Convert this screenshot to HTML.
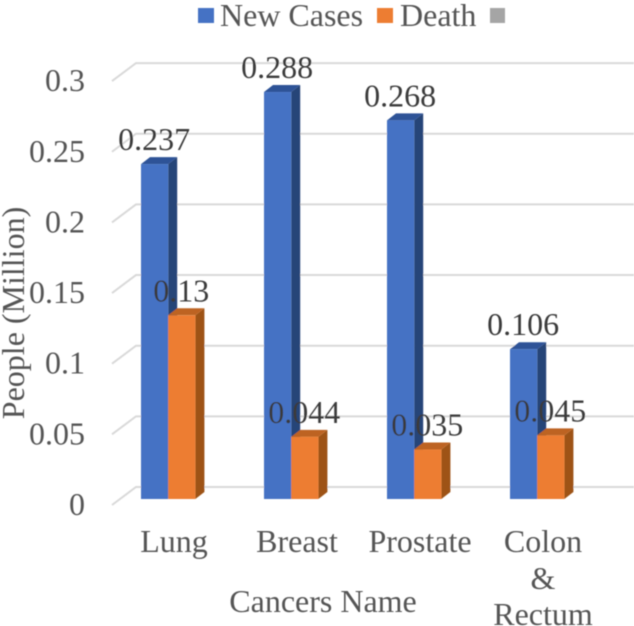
<!DOCTYPE html>
<html>
<head>
<meta charset="utf-8">
<style>
html,body{margin:0;padding:0;background:#fff;width:634px;height:626px;overflow:hidden}
svg{display:block}
text{font-family:"Liberation Serif",serif;font-size:32px}
</style>
</head>
<body>
<svg id="chart" width="634" height="626" viewBox="0 0 634 626" xmlns="http://www.w3.org/2000/svg">
<defs><filter id="soft" x="-5%" y="-5%" width="110%" height="110%"><feGaussianBlur stdDeviation="0.55"/></filter></defs>
<g id="root" filter="url(#soft)"></g>
</svg>
<script>
const categories = ['Lung', 'Breast', 'Prostate', 'Colon'];
const newCases = [0.237, 0.288, 0.268, 0.106];
const deaths = [0.13, 0.044, 0.035, 0.045];
const newCaseLabels = ['0.237', '0.288', '0.268', '0.106'];
const deathLabels = ['0.13', '0.044', '0.035', '0.045'];
const yTicks = [0, 0.05, 0.1, 0.15, 0.2, 0.25, 0.3];
const yTickLabels = ['0', '0.05', '0.1', '0.15', '0.2', '0.25', '0.3'];

const NS = 'http://www.w3.org/2000/svg';
const root = document.getElementById('root');
const baseY = 499, pxPerUnit = 1413;
const depthX = 9, depthY = 7;
const firstX = 141, groupStep = 123, barW = 27.2;
const y = v => baseY - v * pxPerUnit;
const groupX = i => firstX + i * groupStep;

function add(tag, attrs, text) {
  const el = document.createElementNS(NS, tag);
  for (const k in attrs) el.setAttribute(k, attrs[k]);
  if (text !== undefined) el.textContent = text;
  root.appendChild(el);
  return el;
}

// gridlines
yTicks.forEach((t, i) => {
  const fy = y(t) + 6, by = y(t) - 12;
  const g = add('polyline', {points: `112,${fy} 136,${by} 634,${by}`, fill: 'none', stroke: '#d9d9d9', 'stroke-width': 2});
  
  
  const lab = add('text', {x: 85, y: y(t) + 16, 'text-anchor': 'end', fill: '#555555'}, yTickLabels[i]);
  
  
});

function bar(x, v, front, side, top, name) {
  const t = y(v);
  const s = add('polygon', {points: `${x + barW},${t} ${x + barW + depthX},${t - depthY} ${x + barW + depthX},${baseY - depthY} ${x + barW},${baseY}`, fill: side});
  
  
  const p = add('polygon', {points: `${x},${t} ${x + depthX},${t - depthY} ${x + barW + depthX},${t - depthY} ${x + barW},${t}`, fill: top});
  
  
  const r = add('rect', {x: x, y: t, width: barW, height: baseY - t, fill: front});
  
  
}

categories.forEach((c, i) => {
  bar(groupX(i), newCases[i], '#4472c4', '#264478', '#2f5397', 'bar-new-cases');
  bar(groupX(i) + barW, deaths[i], '#ed7d31', '#9e5318', '#bd6420', 'bar-death');
});

categories.forEach((c, i) => {
  const cx1 = groupX(i) + barW / 2 - 0.5;
  const cx2 = cx1 + barW;
  const a = add('text', {x: cx1, y: y(newCases[i]) - 14, 'text-anchor': 'middle', fill: '#3a3a3a'}, newCaseLabels[i]);
  
  
  const b = add('text', {x: cx2, y: y(deaths[i]) - 14, 'text-anchor': 'middle', fill: '#3a3a3a'}, deathLabels[i]);
  
  
  const l = add('text', {x: groupX(i) + 33, y: 552, 'text-anchor': 'middle', fill: '#555555'}, c);
  
  
});
</script>
<svg style="position:absolute;left:0;top:0" width="634" height="626" viewBox="0 0 634 626" xmlns="http://www.w3.org/2000/svg">
<g filter="url(#soft)">
<text x="543" y="589" text-anchor="middle" fill="#555555">&amp;</text>
<text x="543" y="625" text-anchor="middle" fill="#555555">Rectum</text>
<text x="323" y="612" text-anchor="middle" fill="#555555">Cancers Name</text>
<text transform="translate(24,313) rotate(-90)" text-anchor="middle" fill="#555555">People (Million)</text>
<rect x="198" y="8" width="16" height="15" fill="#4472c4"/>
<text x="220" y="26" fill="#555555">New Cases</text>
<rect x="377" y="8" width="16" height="15" fill="#ed7d31"/>
<text x="400" y="26" fill="#555555">Death</text>
<rect x="490" y="8" width="15" height="15" fill="#a5a5a5"/>
</g>
</svg>
</body>
</html>
